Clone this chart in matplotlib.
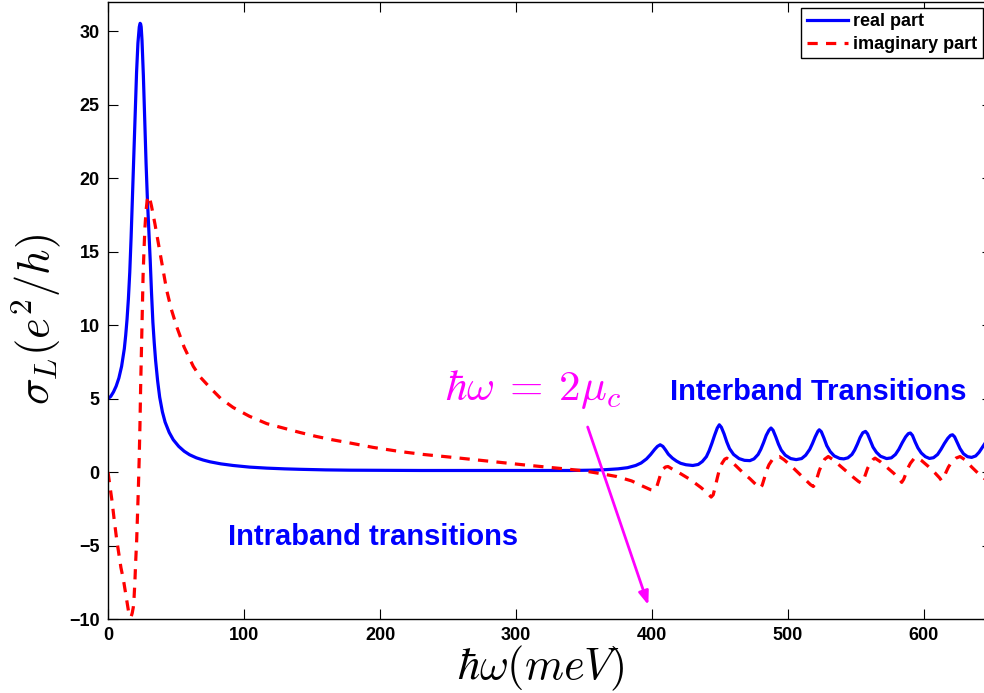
import matplotlib
matplotlib.use("Agg")
import matplotlib.pyplot as plt

plt.rcParams['font.family'] = ['Liberation Sans', 'DejaVu Sans']
plt.rcParams['font.weight'] = 'normal'
plt.rcParams['mathtext.fontset'] = 'cm'

# ---- data ----
real_x = [0, 2, 4, 6, 8, 10, 12, 13, 14, 15, 16, 17, 18, 19, 20, 21, 22, 23, 23.6, 24, 24.4,
          25, 26, 27, 28, 29, 30, 31, 32, 33, 34, 35, 36.5, 38, 40, 42, 45, 48, 52, 56, 60,
          65, 70, 75, 83, 92, 104, 116.7, 130, 141, 160, 178, 200, 230, 260, 300, 340, 355,
          365, 375, 382, 388, 392, 396, 399, 402, 404, 406, 408, 410, 412, 415, 418, 421,
          425, 430, 434, 437, 440, 442, 444, 446, 448, 449.5, 451, 453, 455, 457, 460, 464,
          468, 472, 475, 478, 480, 482, 484, 486, 487.5, 489, 491, 493, 495, 498, 502, 506,
          510, 513, 516, 518, 520, 522, 523, 524.5, 526.5, 528.5, 531, 534, 538, 541, 544,
          547, 549, 551, 553, 555, 557, 558.5, 560.5, 562.5, 565, 568, 572.5, 576, 579,
          581.5, 584, 586.5, 588.5, 590, 591.5, 593.5, 595.5, 598, 601, 604, 607, 610,
          612.5, 615, 617.5, 619.5, 621, 622.5, 624.5, 626.5, 629, 632, 635, 638, 640.5,
          643, 645, 648]
real_y = [5.0, 5.15, 5.45, 5.85, 6.4, 7.2, 8.4, 9.3, 10.4, 11.8, 13.6, 16.0, 18.8, 21.8,
          24.6, 27.2, 29.2, 30.3, 30.55, 30.5, 30.3, 29.4, 27.0, 24.0, 21.0, 18.5, 16.5,
          14.5, 12.2, 10.2, 8.8, 7.6, 6.2, 5.1, 4.1, 3.4, 2.7, 2.2, 1.75, 1.42, 1.18, 0.97,
          0.82, 0.7, 0.56, 0.45, 0.34, 0.27, 0.22, 0.19, 0.15, 0.13, 0.12, 0.11, 0.11, 0.11,
          0.11, 0.13, 0.16, 0.22, 0.3, 0.45, 0.62, 0.9, 1.2, 1.55, 1.75, 1.86, 1.75, 1.5,
          1.22, 0.95, 0.75, 0.6, 0.5, 0.45, 0.52, 0.72, 1.05, 1.45, 1.95, 2.5, 3.0, 3.22,
          3.05, 2.6, 2.05, 1.6, 1.2, 0.92, 0.8, 0.78, 0.9, 1.2, 1.55, 2.0, 2.5, 2.85, 3.0,
          2.85, 2.4, 1.9, 1.5, 1.15, 0.92, 0.85, 0.92, 1.15, 1.55, 1.95, 2.4, 2.78, 2.88,
          2.75, 2.3, 1.8, 1.4, 1.1, 0.93, 0.9, 0.97, 1.2, 1.5, 1.9, 2.35, 2.68, 2.77, 2.6,
          2.15, 1.7, 1.35, 1.08, 0.92, 0.97, 1.2, 1.55, 2.0, 2.4, 2.62, 2.66, 2.5, 2.05,
          1.65, 1.3, 1.05, 0.93, 0.98, 1.2, 1.55, 1.95, 2.3, 2.5, 2.54, 2.4, 2.0, 1.6, 1.25,
          1.05, 1.0, 1.1, 1.35, 1.7, 1.98, 2.3]

imag_x = [0, 1.5, 3, 4.5, 6.4, 8, 9.5, 11.3, 12.5, 13.5, 14.5, 15.3, 16.2, 17, 17.8, 18.6,
          19.2, 19.8, 20.4, 21.1, 21.7, 22.3, 22.9, 23.5, 24, 24.6, 25.2, 25.8, 26.5, 27.2,
          28, 28.8, 29.7, 30.5, 32, 34.5, 37, 40, 43.1, 46.5, 50.5, 56, 62.7, 68, 75, 83,
          92, 104, 116.7, 129, 141, 153, 165, 178, 195, 214.7, 232, 251.5, 270, 288, 306,
          325, 338, 349.5, 362, 374, 385, 393, 399, 401.5, 403.5, 405, 406.5, 408, 410,
          411.8, 415, 420, 428, 436, 441, 443.5, 445, 446.5, 448, 449.5, 451.5, 453.5, 455,
          458, 462, 467, 472, 477, 479.4, 481, 482.5, 484, 486, 488.5, 491, 493.6, 497, 502,
          507, 512, 516.5, 518.6, 520, 521.5, 523, 525, 527, 529.6, 533, 538, 543, 548, 552,
          554, 555.5, 557, 558.5, 560.5, 562.5, 564, 568, 573, 578, 582, 583.6, 585, 586.5,
          588, 590, 592.5, 594.6, 598, 603, 608, 611.5, 612.8, 614.5, 616, 618, 620.5,
          623.5, 626.5, 630, 635, 640, 644, 648]
imag_y = [0.0, -1.0, -2.0, -3.2, -4.6, -5.6, -6.5, -7.3, -8.0, -8.6, -9.2, -9.6, -9.85,
          -9.85, -9.6, -9.2, -8.5, -7.4, -6.0, -4.6, -3.0, -1.2, 0.8, 3.2, 5.8, 8.3, 11.0,
          13.4, 15.2, 16.7, 17.8, 18.5, 18.8, 18.7, 18.1, 16.9, 15.6, 14.0, 12.4, 11.1, 9.9,
          8.5, 7.2, 6.45, 5.75, 5.0, 4.4, 3.8, 3.3, 3.0, 2.7, 2.43, 2.2, 1.98, 1.68, 1.4,
          1.2, 1.02, 0.84, 0.66, 0.49, 0.32, 0.2, 0.09, -0.1, -0.3, -0.6, -0.95, -1.2,
          -1.25, -1.0, -0.55, -0.1, 0.2, 0.35, 0.38, 0.2, -0.05, -0.5, -1.05, -1.45, -1.7,
          -1.55, -1.0, -0.4, 0.15, 0.6, 0.88, 0.95, 0.75, 0.4, -0.05, -0.45, -0.9, -1.09,
          -0.9, -0.45, 0.05, 0.5, 0.85, 1.02, 1.06, 0.85, 0.45, 0.0, -0.45, -0.85, -0.98,
          -0.8, -0.35, 0.1, 0.55, 0.88, 1.06, 0.85, 0.45, 0.05, -0.35, -0.65, -0.75, -0.55,
          -0.15, 0.25, 0.6, 0.85, 0.95, 0.7, 0.3, -0.1, -0.5, -0.7, -0.5, -0.15, 0.25, 0.6,
          0.9, 1.0, 0.8, 0.4, -0.05, -0.4, -0.57, -0.4, -0.05, 0.35, 0.7, 0.95, 1.06, 0.85,
          0.35, -0.1, -0.41, -0.6]

x_ticks = [0, 100, 200, 300, 400, 500, 600]
y_ticks = [-10, -5, 0, 5, 10, 15, 20, 25, 30]

fig = plt.figure(figsize=(9.84, 6.93), dpi=100)
ax = fig.add_axes([108/984, 74/693, 884/984, 617/693])

ax.plot(real_x, real_y, color='#0000ff', lw=2.3, label='real part')
ax.plot(imag_x, imag_y, color='#ff0000', lw=2.3, ls=(0, (3.2, 2.6)), label='imaginary part')

ax.set_xlim(0, 650)
ax.set_ylim(-10, 32)
ax.set_xticks(x_ticks)
ax.set_yticks(y_ticks)
ax.tick_params(direction='in', length=7, width=0.8, top=True, right=True,
               labelsize=13, pad=6)
for lab in ax.get_xticklabels() + ax.get_yticklabels():
    lab.set_fontweight('bold')
for s in ax.spines.values():
    s.set_linewidth(1.0)

ax.set_xlabel(r'$\hbar\omega(meV)$', fontsize=32)
ax.set_ylabel(r'$\sigma_L(e^2/h)$', fontsize=32)
ax.xaxis.set_label_coords(0.49, -0.04)
ax.yaxis.set_label_coords(-0.051, 0.485)

ax.text(88, -4.4, 'Intraband transitions', color='#0000ff', fontsize=21,
        fontweight='bold', ha='left', va='center')
ax.text(413, 5.47, 'Interband Transitions', color='#0000ff', fontsize=21,
        fontweight='bold', ha='left', va='center')
ax.text(248, 4.93, r'$\hbar\omega\:=\:2\mu_c$', color='#ff00ff', fontsize=31,
        ha='left', va='baseline')
ax.annotate('', xy=(397.3, -9.05), xytext=(352.7, 3.07),
            arrowprops=dict(arrowstyle='-|>,head_length=0.8,head_width=0.3',
                            color='#ff00ff', lw=2, shrinkA=0, shrinkB=0))

leg = ax.legend(loc='upper right', bbox_to_anchor=(983/984, 1 - 8/693),
                bbox_transform=fig.transFigure, borderaxespad=0,
                fancybox=False, edgecolor='black', framealpha=1,
                prop={'weight': 'bold', 'size': 13}, handlelength=2.3,
                handletextpad=0.3, labelspacing=0.3, borderpad=0.3)
leg.get_frame().set_linewidth(1.0)

fig.savefig('out.png', dpi=100)
